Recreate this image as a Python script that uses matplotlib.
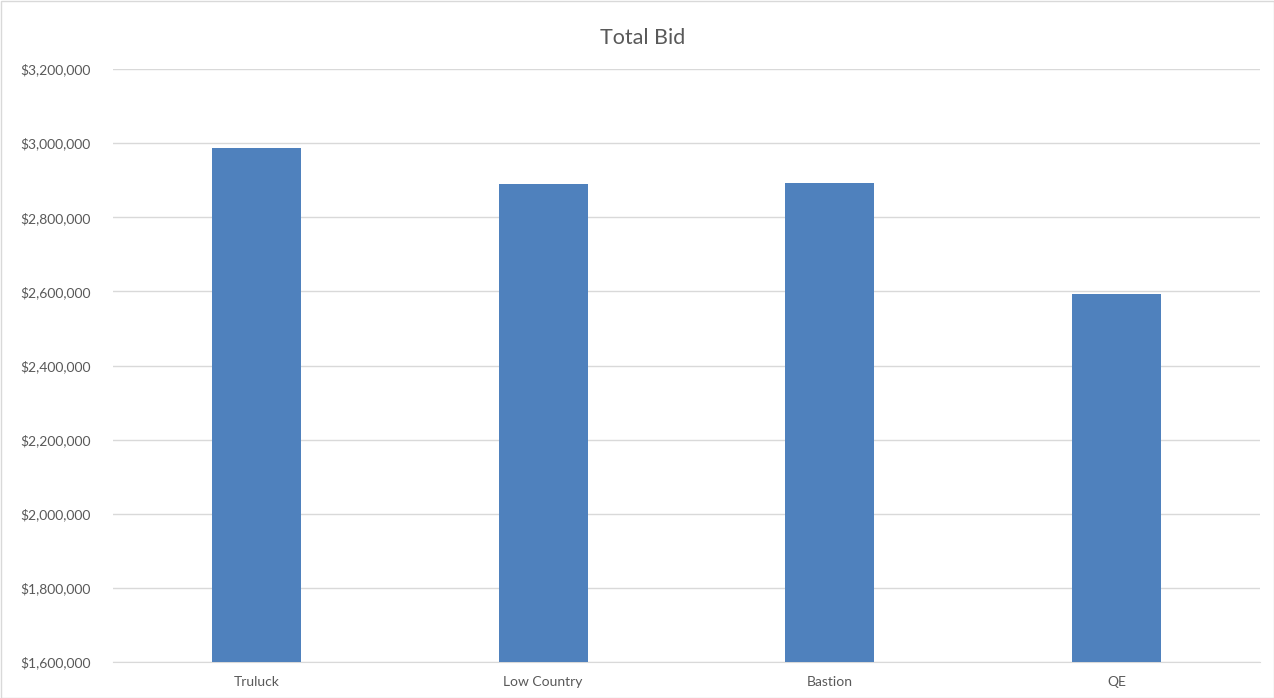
import matplotlib.pyplot as plt
from matplotlib.ticker import FuncFormatter
import matplotlib.patches as mpatches

# データ
categories = ["Truluck", "Low Country", "Bastion", "QE"]
total_bid = [2985500, 2889000, 2891500, 2593700]

plt.rcParams["font.family"] = ["Lato", "DejaVu Sans"]
text_color = "#595959"
grid_color = "#d9d9d9"
bar_color = "#4f81bd"

fig = plt.figure(figsize=(12.74, 6.98), dpi=100)
ax = fig.add_axes([113 / 1274, 1 - 662 / 698, (1260 - 113) / 1274, (662 - 69) / 698])

x = range(len(categories))
ax.bar(x, total_bid, width=0.31, color=bar_color, zorder=3)

ax.set_xlim(-0.5, len(categories) - 0.5)
ax.set_ylim(1600000, 3200000)
ax.set_yticks(range(1600000, 3200001, 200000))
ax.yaxis.set_major_formatter(FuncFormatter(lambda v, p: f"${v:,.0f}"))
ax.set_xticks(list(x))
ax.set_xticklabels(categories)

ax.grid(axis="y", color=grid_color, linewidth=1, zorder=0)
for s in ["top", "right", "left"]:
    ax.spines[s].set_visible(False)
ax.spines["bottom"].set_color(grid_color)
ax.tick_params(axis="both", length=0, colors=text_color, labelsize=10)
ax.tick_params(axis="y", pad=16)
ax.tick_params(axis="x", pad=10)

fig.text(643 / 1274, 1 - 38 / 698, "Total Bid", ha="center", va="center",
         fontsize=15.5, color=text_color)

# 外枠
fig.patches.append(mpatches.Rectangle((0.5 / 1274, 0.5 / 698), 1 - 1 / 1274, 1 - 1 / 698,
                                      transform=fig.transFigure, fill=False,
                                      edgecolor=grid_color, linewidth=1))

fig.savefig("out.png", dpi=100)
